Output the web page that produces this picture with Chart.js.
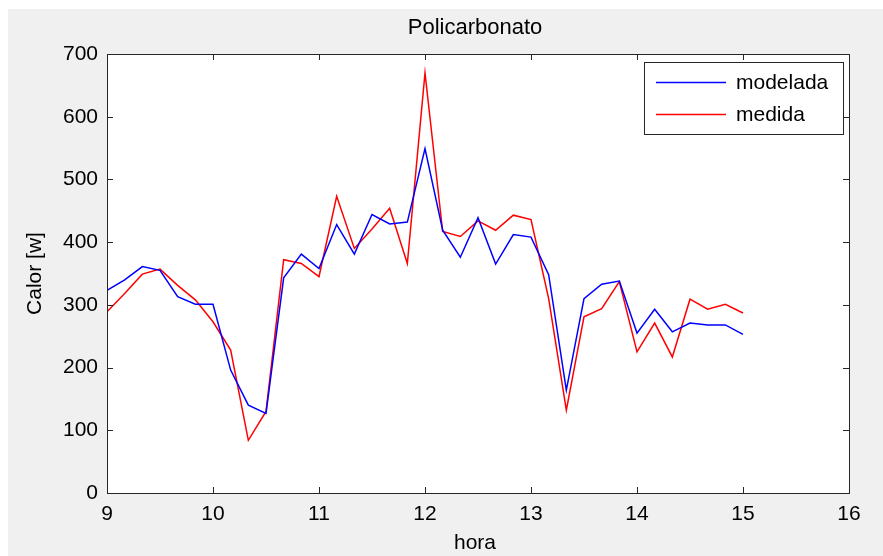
<!DOCTYPE html>
<html>
<head>
<meta charset="utf-8">
<title>Policarbonato</title>
<script src="https://cdn.jsdelivr.net/npm/chart.js@4/dist/chart.umd.min.js"></script>
<style>
  html, body { margin: 0; padding: 0; background: #fff; }
  #wrap { width: 883px; height: 556px; }
</style>
</head>
<body>
<div id="wrap"><canvas id="grafico" width="883" height="556"></canvas></div>
<script>
// medições a cada 10 minutos, das 9:00 às 15:00
const horas = ['9:00','9:10','9:20','9:30','9:40','9:50',
               '10:00','10:10','10:20','10:30','10:40','10:50',
               '11:00','11:10','11:20','11:30','11:40','11:50',
               '12:00','12:10','12:20','12:30','12:40','12:50',
               '13:00','13:10','13:20','13:30','13:40','13:50',
               '14:00','14:10','14:20','14:30','14:40','14:50',
               '15:00'];

const modelada = [323,340,361,355,313,301,301,196,140,127,343,381,358,428,381,444,429,432,
                  549,419,376,439,365,412,408,348,164,310,333,338,255,293,257,271,268,268,253];

const medida = [289,318,349,357,331,308,273,228,84,130,372,366,345,473,390,421,454,366,
                670,417,409,434,419,443,436,310,132,281,294,337,225,271,217,309,293,301,287];

const ticksX = [9,10,11,12,13,14,15,16];
const ticksY = [0,100,200,300,400,500,600,700];

const FONTE = '"Liberation Sans", Arial, sans-serif';

// "9:10" -> 9.1667
function horaDecimal(h) {
    const partes = h.split(':');
    return parseInt(partes[0]) + parseInt(partes[1]) / 60;
}

function pontos(valores) {
    return valores.map((v, i) => ({ x: horaDecimal(horas[i]), y: v }));
}

// fundo cinza, moldura, marcas internas, título e legenda
const moldura = {
    id: 'moldura',
    beforeDraw(chart) {
        const ctx = chart.ctx;
        const a = chart.chartArea;
        ctx.save();
        ctx.fillStyle = '#ffffff';
        ctx.fillRect(0, 0, chart.width, chart.height);
        ctx.fillStyle = '#f0f0f0';
        ctx.fillRect(8, 9, chart.width - 8, chart.height - 9);
        ctx.fillStyle = '#ffffff';
        ctx.fillRect(a.left, a.top, a.right - a.left, a.bottom - a.top);
        ctx.restore();
    },
    afterDraw(chart) {
        const ctx = chart.ctx;
        const a = chart.chartArea;
        const sx = chart.scales.x;
        const sy = chart.scales.y;
        ctx.save();
        ctx.strokeStyle = '#262626';
        ctx.lineWidth = 1;
        ctx.strokeRect(Math.round(a.left) + 0.5, Math.round(a.top) + 0.5,
                       Math.round(a.right - a.left), Math.round(a.bottom - a.top));
        ctx.beginPath();
        ticksX.forEach(t => {
            const px = Math.round(sx.getPixelForValue(t)) + 0.5;
            ctx.moveTo(px, a.bottom); ctx.lineTo(px, a.bottom - 6);
            ctx.moveTo(px, a.top); ctx.lineTo(px, a.top + 6);
        });
        ticksY.forEach(t => {
            const py = Math.round(sy.getPixelForValue(t)) + 0.5;
            ctx.moveTo(a.left, py); ctx.lineTo(a.left + 6, py);
            ctx.moveTo(a.right, py); ctx.lineTo(a.right - 6, py);
        });
        ctx.stroke();

        ctx.fillStyle = '#000';
        ctx.font = '21px ' + FONTE;
        ctx.textAlign = 'center';
        ctx.textBaseline = 'middle';
        const cx = (a.left + a.right) / 2;
        ctx.save();
        ctx.font = '22px ' + FONTE;
        ctx.fillText('Policarbonato', cx - 3, 28);
        ctx.restore();
        ctx.fillText('hora', cx - 3, 543);
        ctx.save();
        ctx.translate(35, (a.top + a.bottom) / 2);
        ctx.rotate(-Math.PI / 2);
        ctx.fillText('Calor [w]', 0, 0);
        ctx.restore();

        // legenda
        const lx = 644, ly = 62, lw = 199, lh = 72;
        ctx.fillStyle = '#ffffff';
        ctx.fillRect(lx, ly, lw, lh);
        ctx.strokeStyle = '#262626';
        ctx.strokeRect(lx + 0.5, ly + 0.5, lw, lh);
        ctx.textAlign = 'left';
        chart.data.datasets.forEach((ds, i) => {
            const y = ly + 20 + i * 32;
            ctx.strokeStyle = ds.borderColor;
            ctx.lineWidth = ds.borderWidth;
            ctx.beginPath();
            ctx.moveTo(lx + 12, y + 0.5);
            ctx.lineTo(lx + 82, y + 0.5);
            ctx.stroke();
            ctx.fillStyle = '#000';
            ctx.fillText(ds.label, lx + 92, y + 1);
        });
        ctx.restore();
    }
};

new Chart(document.getElementById('grafico'), {
    type: 'line',
    data: {
        datasets: [
            { label: 'modelada', data: pontos(modelada), borderColor: '#0000ff', borderWidth: 1.5, pointRadius: 0, tension: 0 },
            { label: 'medida', data: pontos(medida), borderColor: '#ff0000', borderWidth: 1.5, pointRadius: 0, tension: 0 }
        ]
    },
    options: {
        responsive: false,
        animation: false,
        events: [],
        layout: { padding: { top: 54, right: 34, left: 0, bottom: 0 } },
        plugins: { legend: { display: false }, tooltip: { enabled: false } },
        scales: {
            x: {
                type: 'linear',
                min: 9, max: 16,
                grid: { display: false, drawTicks: false },
                border: { display: false },
                ticks: { stepSize: 1, padding: 9, color: '#000', font: { family: FONTE, size: 21 }, maxRotation: 0 },
                afterFit(scale) { scale.height = 63; }
            },
            y: {
                min: 0, max: 700,
                grid: { display: false, drawTicks: false },
                border: { display: false },
                ticks: { stepSize: 100, padding: 9, color: '#000', font: { family: FONTE, size: 21 } },
                afterFit(scale) { scale.width = 107; }
            }
        }
    },
    plugins: [moldura]
});
</script>
</body>
</html>
